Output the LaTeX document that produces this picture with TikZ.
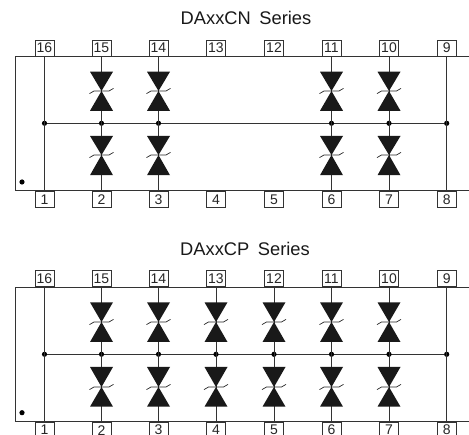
\documentclass[tikz,border=0pt]{standalone}
\usepackage{fontspec}
\setmainfont{Liberation Sans}
\tikzset{
  wire/.style={line width=1pt,draw=black!80},
  pinbox/.style={draw=black!80,line width=0.9pt,fill=white,minimum width=19pt,minimum height=16pt,inner sep=0pt,font=\fontsize{14}{14}\selectfont,text=black!85},
  title/.style={font=\fontsize{18.3}{20}\selectfont,execute at begin node={\spaceskip=8.6pt\relax},text=black!90,inner sep=0pt,anchor=base},
  junction/.style={circle,fill=black,inner sep=0pt,minimum size=5.2pt},
  marker/.style={circle,fill=black,inner sep=0pt,minimum size=5.2pt},
  tri/.style={fill=black!90,draw=none},
  zener/.style={line width=0.7pt,draw=black!85}
}
% \zdiode{x}{top y}{waist y}{bottom y}
\newcommand{\zdiode}[4]{
  \fill[tri] (#1-11.5,#2) -- (#1+11.5,#2) -- (#1,#3) -- cycle;
  \fill[tri] (#1-11.5,#4) -- (#1+11.5,#4) -- (#1,#3) -- cycle;
  \draw[zener] (#1-12,#3+2.6) -- (#1-7.5,#3) -- (#1+7.5,#3) -- (#1+12,#3-2.6);
}
\begin{document}
\begin{tikzpicture}[x=1pt,y=-1pt]
\clip (0,0) rectangle (469,435);
\fill[white] (0,0) rectangle (469,435);

% ---------- DAxxCN ----------
\node[title] (ta) at (246,25) {DAxxCN Series};
\coordinate (ar) at (469,56.5); \coordinate (al) at (15,56.5);
\coordinate (bl) at (15,191); \coordinate (br) at (469,191);
\draw[wire] (ar) -- (al) -- (bl) -- (br);
\foreach \x/\tp/\bp in {44.5/16/1,101.5/15/2,158.5/14/3,216/13/4,274/12/5,331.5/11/6,389/10/7,446.7/9/8}{
  \node[pinbox,anchor=south] (a\tp) at (\x,56.5) {\tp};
  \node[pinbox,anchor=north] (a\bp) at (\x,191) {\bp};
}
\node[junction] (ja16) at (44.5,123.3) {};
\node[junction] (ja9) at (446.7,123.3) {};
\draw[wire] (ja16) -- (ja9);
\draw[wire] (a16.south) -- (a1.north);
\draw[wire] (a9.south) -- (a8.north);
\foreach \x/\tp/\bp in {101.5/15/2,158.5/14/3,331.5/11/6,389/10/7}{
  \node[junction] (ja\tp) at (\x,123.3) {};
  \draw[wire] (a\tp.south) -- (a\bp.north);
  \zdiode{\x}{71.7}{91}{110.8}
  \zdiode{\x}{136}{155}{175.2}
}
\node[marker] (dota) at (22,182) {};

% ---------- DAxxCP ----------
\node[title] (tb) at (245,255.7) {DAxxCP Series};
\coordinate (cr) at (469,287.3); \coordinate (cl) at (15,287.3);
\coordinate (dl) at (15,421.7); \coordinate (dr) at (469,421.7);
\draw[wire] (cr) -- (cl) -- (dl) -- (dr);
\foreach \x/\tp/\bp in {44.5/16/1,101.5/15/2,158.5/14/3,216/13/4,274/12/5,331.5/11/6,389/10/7,446.7/9/8}{
  \node[pinbox,anchor=south] (b\tp) at (\x,287.3) {\tp};
  \node[pinbox,anchor=north] (b\bp) at (\x,421.7) {\bp};
}
\node[junction] (jb16) at (44.5,354.3) {};
\node[junction] (jb9) at (446.7,354.3) {};
\draw[wire] (jb16) -- (jb9);
\draw[wire] (b16.south) -- (b1.north);
\draw[wire] (b9.south) -- (b8.north);
\foreach \x/\tp/\bp in {101.5/15/2,158.5/14/3,216/13/4,274/12/5,331.5/11/6,389/10/7}{
  \node[junction] (jb\tp) at (\x,354.3) {};
  \draw[wire] (b\tp.south) -- (b\bp.north);
  \zdiode{\x}{302.3}{322}{342}
  \zdiode{\x}{367}{387}{406.7}
}
\node[marker] (dotb) at (22,412.7) {};
\end{tikzpicture}
\end{document}
